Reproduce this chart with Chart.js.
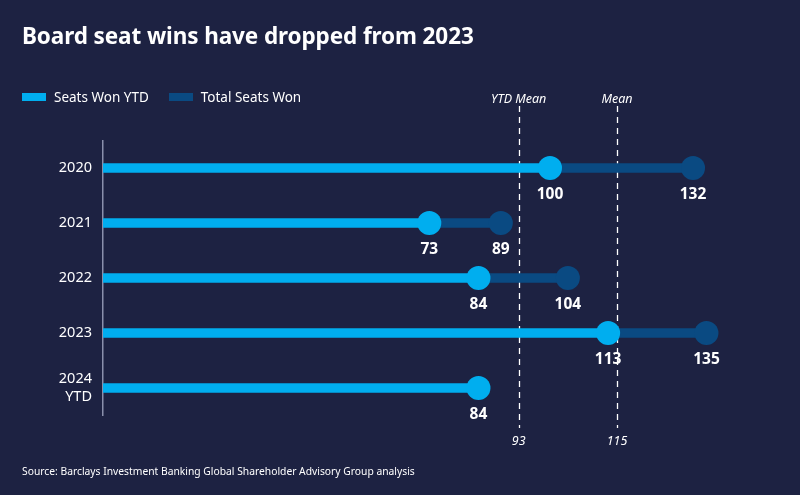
<!DOCTYPE html>
<html>
<head>
<meta charset="utf-8">
<script src="https://cdn.jsdelivr.net/npm/chart.js@4.4.1/dist/chart.umd.min.js"></script>
<style>
    html, body { margin: 0; padding: 0; background: #1d2242; }
    #wrap { position: relative; width: 800px; height: 495px; overflow: hidden; font-family: "Noto Sans", sans-serif; color: #fff; }
    #chart { position: absolute; left: 0; top: 0; }
    .title { position: absolute; left: 22px; top: 20px; font-size: 22.5px; font-weight: 700; letter-spacing: -0.1px; }
    .legend { position: absolute; left: 22px; top: 88px; font-size: 13.5px; display: flex; align-items: center; }
    .legend span.sw { display: inline-block; width: 24px; height: 8px; margin-right: 8px; }
    .legend .item { display: flex; align-items: center; margin-right: 20px; }
    .source { position: absolute; left: 22px; top: 464px; font-size: 10.3px; }
</style>
</head>
<body>
<div id="wrap">
    <canvas id="chart" width="800" height="495"></canvas>
    <div class="title">Board seat wins have dropped from 2023</div>
    <div class="legend">
        <div class="item"><span class="sw" id="sw1"></span>Seats Won YTD</div>
        <div class="item"><span class="sw" id="sw2"></span>Total Seats Won</div>
    </div>
    <div class="source">Source: Barclays Investment Banking Global Shareholder Advisory Group analysis</div>
</div>
<script>
// Data
const years = [['2020'], ['2021'], ['2022'], ['2023'], ['2024', 'YTD']];
const seatsYTD = [100, 73, 84, 113, 84];
const seatsTotal = [132, 89, 104, 135, null];
const meanYTD = 93;
const meanTotal = 115;

const LIGHT = '#00aeef';
const DARK = '#0a4a82';

document.getElementById('sw1').style.background = LIGHT;
document.getElementById('sw2').style.background = DARK;

const cats = years.map(y => y.join(' '));

// Mean lines + value labels
const overlayPlugin = {
    id: 'overlay',
    beforeDatasetsDraw(chart) {
        const ctx = chart.ctx;
        const x = chart.scales.x;
        ctx.save();
        ctx.strokeStyle = '#ffffff';
        ctx.lineWidth = 1.3;
        ctx.setLineDash([6, 5]);
        [meanYTD, meanTotal].forEach(v => {
            const px = Math.round(x.getPixelForValue(v)) + 0.5;
            ctx.beginPath();
            ctx.moveTo(px, 106);
            ctx.lineTo(px, 428);
            ctx.stroke();
        });
        ctx.restore();
    },
    afterDraw(chart) {
        const ctx = chart.ctx;
        const x = chart.scales.x;
        ctx.save();
        ctx.fillStyle = '#ffffff';
        ctx.textAlign = 'center';
        ctx.textBaseline = 'middle';
        ctx.font = 'italic 12.5px "Noto Sans"';
        ctx.fillText('YTD Mean', x.getPixelForValue(meanYTD), 99);
        ctx.fillText('Mean', x.getPixelForValue(meanTotal), 99);
        ctx.fillText(String(meanYTD), x.getPixelForValue(meanYTD), 441);
        ctx.fillText(String(meanTotal), x.getPixelForValue(meanTotal), 441);

        ctx.font = 'bold 15.5px "Noto Sans"';
        [2, 3].forEach(di => {
            const ds = chart.data.datasets[di];
            chart.getDatasetMeta(di).data.forEach((pt, i) => {
                const v = ds.data[i].x;
                if (v == null) return;
                ctx.fillText(String(v), pt.x, pt.y + 27);
            });
        });
        ctx.restore();
    }
};

new Chart(document.getElementById('chart'), {
    type: 'bar',
    data: {
        labels: cats,
        datasets: [
            {
                label: 'Total Seats Won',
                data: seatsTotal.map((t, i) => t == null ? null : [seatsYTD[i], t]),
                backgroundColor: DARK,
                barThickness: 9,
                grouped: false,
                order: 4
            },
            {
                label: 'Seats Won YTD',
                data: seatsYTD.map(v => [0, v]),
                backgroundColor: LIGHT,
                barThickness: 9,
                grouped: false,
                order: 3
            },
            {
                type: 'line',
                label: 'Total points',
                data: seatsTotal.map((v, i) => ({ x: v, y: cats[i] })),
                showLine: false,
                pointRadius: 12,
                pointHoverRadius: 12,
                pointBackgroundColor: DARK,
                pointBorderWidth: 0,
                order: 2
            },
            {
                type: 'line',
                label: 'YTD points',
                data: seatsYTD.map((v, i) => ({ x: v, y: cats[i] })),
                showLine: false,
                pointRadius: 12,
                pointHoverRadius: 12,
                pointBackgroundColor: LIGHT,
                pointBorderWidth: 0,
                order: 1
            }
        ]
    },
    options: {
        indexAxis: 'y',
        responsive: false,
        animation: false,
        layout: { padding: { left: 0, top: 140.5, right: 26.5, bottom: 79.5 } },
        plugins: {
            legend: { display: false },
            tooltip: { enabled: false }
        },
        scales: {
            x: {
                type: 'linear',
                min: 0,
                max: 150,
                display: false
            },
            y: {
                type: 'category',
                offset: true,
                grid: { display: false, drawTicks: false },
                border: { display: true, color: '#8a8fab', width: 1.5 },
                ticks: {
                    color: '#ffffff',
                    padding: 11,
                    font: { family: 'Noto Sans', size: 14.5 },
                    callback: (v, i) => years[i]
                },
                afterFit: s => { s.width = 103; }
            }
        }
    },
    plugins: [overlayPlugin]
});
</script>
</body>
</html>
